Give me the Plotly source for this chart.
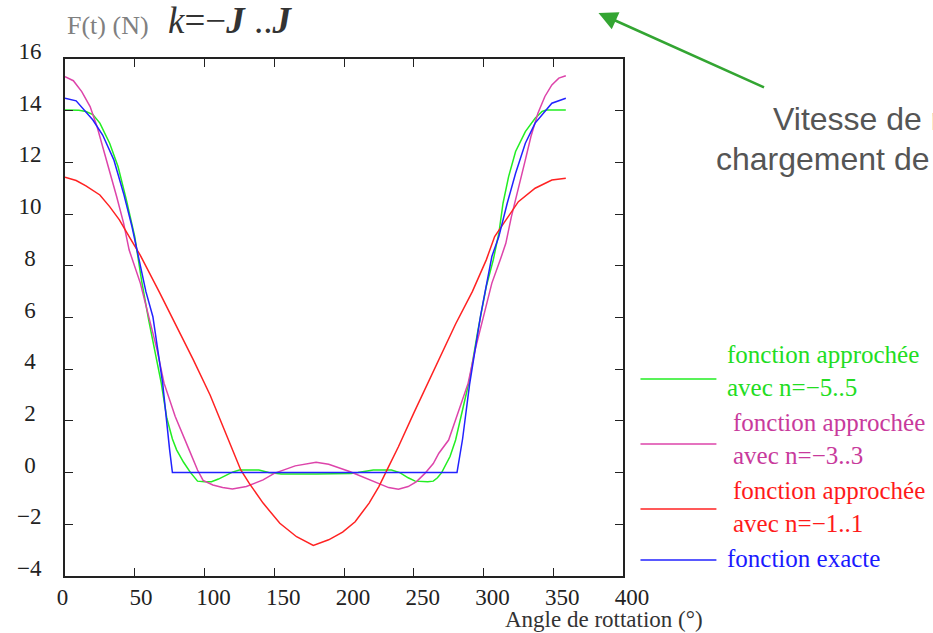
import plotly.graph_objects as go

# ---------------- data ----------------
x_exact = [0, 8, 20, 27, 35, 42, 48, 52, 58, 63, 70, 75, 77, 281, 285, 290, 298, 306, 311, 317, 323, 330, 337, 349, 359]
y_exact = [14.48, 14.38, 13.64, 13.06, 12.1, 10.8, 9.52, 8.5, 7.0, 6.03, 3.46, 0.88, 0.0, 0.0, 1.3, 3.4, 6.1, 8.36, 9.13, 10.42, 11.58, 12.74, 13.52, 14.29, 14.48]

x_n5 = [0, 10, 15, 20, 25, 32, 38, 44, 50, 55, 60, 65, 69, 73, 77, 80, 85, 90, 95, 100, 105, 110, 115, 120, 125, 132, 139, 146, 155, 180, 200, 205, 210, 215, 221, 228, 234, 240, 246, 251, 255, 260, 264, 267, 270, 273, 276, 280, 284, 290, 296, 302, 307, 311, 314, 318, 323, 330, 337, 342, 345, 359]
y_n5 = [14.03, 14.02, 13.97, 13.85, 13.52, 12.74, 11.84, 10.55, 9.13, 7.4, 5.9, 4.55, 3.46, 2.1, 1.3, 0.88, 0.4, 0.0, -0.33, -0.35, -0.35, -0.25, -0.1, 0.02, 0.1, 0.1, 0.1, 0.0, -0.05, -0.05, -0.05, -0.03, 0.0, 0.05, 0.1, 0.1, 0.1, 0.0, -0.2, -0.33, -0.35, -0.35, -0.33, -0.2, 0.0, 0.3, 0.62, 1.26, 2.2, 3.6, 5.5, 7.2, 8.23, 9.26, 10.42, 11.45, 12.42, 13.19, 13.71, 13.97, 14.03, 14.03]

x_n3 = [0, 6, 12, 18, 23, 27, 32, 37, 42, 46, 54, 60, 66, 71, 79, 89, 95, 99, 106, 113, 120, 130, 142, 150, 165, 180, 189, 204, 218, 232, 239, 246, 252, 258, 264, 268, 275, 281, 289, 294, 300, 306, 312, 316, 320, 325, 330, 334, 339, 344, 349, 354, 359]
y_n3 = [15.32, 15.16, 14.74, 14.16, 13.38, 12.61, 11.71, 10.68, 9.65, 8.61, 7.33, 6.03, 4.75, 3.46, 2.17, 0.88, 0.1, -0.3, -0.48, -0.58, -0.63, -0.54, -0.28, -0.03, 0.26, 0.4, 0.32, 0.04, -0.28, -0.58, -0.64, -0.54, -0.35, -0.03, 0.35, 0.75, 1.26, 2.17, 3.46, 4.75, 6.03, 7.33, 8.23, 8.87, 9.9, 11.06, 12.1, 13.0, 13.9, 14.55, 15.0, 15.26, 15.35]

x_n1 = [0, 8, 15, 25, 32, 39, 46, 54, 68, 80, 92, 104, 116, 126, 132, 142, 154, 166, 178, 189, 199, 208, 218, 225, 232, 239, 250, 260, 270, 280, 292, 302, 308, 316, 325, 337, 349, 359]
y_n1 = [11.43, 11.3, 11.09, 10.74, 10.29, 9.78, 9.13, 8.4, 6.94, 5.65, 4.36, 3.0, 1.4, 0.1, -0.41, -1.18, -1.96, -2.48, -2.82, -2.6, -2.3, -1.9, -1.18, -0.54, 0.23, 1.0, 2.3, 3.45, 4.6, 5.75, 7.0, 8.23, 9.13, 9.78, 10.48, 11.0, 11.32, 11.39]

x_tickvals = [0, 50, 100, 150, 200, 250, 300, 350, 400]
x_ticktext = ["0", "50", "100", "150", "200", "250", "300", "350", "400"]
y_tickvals = [-4, -2, 0, 2, 4, 6, 8, 10, 12, 14, 16]
y_ticktext = ["\u22124", "\u22122", "0", "2", "4", "6", "8", "10", "12", "14", "16"]

legend_labels = ["fonction approchée<br>avec n=\u22125..5",
                 "fonction approchée<br>avec n=\u22123..3",
                 "fonction approchée<br>avec n=\u22121..1",
                 "fonction exacte"]

# ---------------- styles ----------------
C_GREEN, C_MAG, C_RED, C_BLUE = "#22ee22", "#dd44aa", "#ff2222", "#2222ff"
T_GREEN, T_MAG, T_RED, T_BLUE = "#22dd22", "#c83a9c", "#ff1a1a", "#1a1aff"
SERIF = "Liberation Serif, Times New Roman, serif"
SANS = "Liberation Sans, Arial, sans-serif"

fig = go.Figure()
series = [(x_n5, y_n5, C_GREEN, legend_labels[0]),
          (x_n3, y_n3, C_MAG, legend_labels[1]),
          (x_n1, y_n1, C_RED, legend_labels[2]),
          (x_exact, y_exact, C_BLUE, legend_labels[3])]
for xs, ys, col, name in series:
    fig.add_trace(go.Scatter(x=xs, y=ys, mode="lines", name=name.replace("<br>", " "),
                             line=dict(color=col, width=1.5), showlegend=False))

NB = "\u00a0"
xt = ["0" + NB * 4, "50" + NB * 1] + x_ticktext[2:]
yt = [t + NB * (3 if len(t) > 1 else 4) for t in y_ticktext]

fig.update_xaxes(range=[0, 400], tickvals=x_tickvals, ticktext=xt, ticks="inside", ticklen=8,
                 tickcolor="#222", tickwidth=1.3, showline=True, linecolor="#222", linewidth=1.5,
                 mirror="ticks", showgrid=False, zeroline=False, ticklabelshift=9,
                 tickfont=dict(family=SERIF, size=23, color="#222"))
fig.update_yaxes(range=[-4, 16], tickvals=y_tickvals, ticktext=yt, ticks="inside", ticklen=8,
                 tickcolor="#222", tickwidth=1.3, showline=True, linecolor="#222", linewidth=1.5,
                 mirror="ticks", showgrid=False, zeroline=False, ticklabelshift=-8,
                 tickfont=dict(family=SERIF, size=23, color="#222"))

L, R, T, B = 65, 623.5, 59, 576
W, H = 933, 633


def px(xp):
    return (xp - L) / (R - L)


def py(yp):
    return (B - yp) / (B - T)


ann = []
# title pieces
ann.append(dict(x=px(65), y=py(25), xref="paper", yref="paper", xanchor="left", yanchor="middle",
                text="F(t) (N)", showarrow=False, font=dict(family=SERIF, size=26, color="#808080")))
ann.append(dict(x=px(166), y=py(21), xref="paper", yref="paper", xanchor="left", yanchor="middle",
                text="<i>k</i>=\u2212<b><i>J</i></b> ..<b><i>J</i></b>", showarrow=False,
                font=dict(family=SERIF, size=37, color="#333333")))
# x-axis title
ann.append(dict(x=px(503), y=py(619), xref="paper", yref="paper", xanchor="left", yanchor="middle",
                text="Angle de rottation (°)", showarrow=False,
                font=dict(family=SERIF, size=23, color="#333333")))
# side text (cut by the window edge, as in the reference)
ann.append(dict(x=px(772), y=py(119), xref="paper", yref="paper", xanchor="left", yanchor="middle",
                text="Vitesse de m", showarrow=False, font=dict(family=SANS, size=32, color="#555555")))
ann.append(dict(x=px(715), y=py(159), xref="paper", yref="paper", xanchor="left", yanchor="middle",
                text="chargement de", showarrow=False, font=dict(family=SANS, size=32, color="#555555")))
# green arrow
ann.append(dict(x=px(599), y=py(13), xref="paper", yref="paper", text="", showarrow=True,
                ax=167, ay=75, arrowhead=2, arrowsize=1.5, arrowwidth=2.5, arrowcolor="#33a532",
                standoff=0))

# manual legend
leg_line_y = [379, 444, 509, 560]
leg_text_y = [371, 438.5, 506.5, 558]
leg_text_x = [726, 732, 732, 726]
leg_line_cols = [C_GREEN, C_MAG, C_RED, C_BLUE]
leg_text_cols = [T_GREEN, T_MAG, T_RED, T_BLUE]
shapes = []
for i in range(4):
    shapes.append(dict(type="line", xref="paper", yref="paper", x0=px(641), x1=px(717),
                       y0=py(leg_line_y[i]), y1=py(leg_line_y[i]),
                       line=dict(color=leg_line_cols[i], width=1.5)))
    ann.append(dict(x=px(leg_text_x[i]), y=py(leg_text_y[i]), xref="paper", yref="paper",
                    xanchor="left", yanchor="middle", align="left", text=legend_labels[i],
                    showarrow=False, font=dict(family=SERIF, size=25, color=leg_text_cols[i])))

fig.update_layout(width=W, height=H, margin=dict(l=L, r=W - R, t=T, b=H - B),
                  plot_bgcolor="white", paper_bgcolor="white", annotations=ann, shapes=shapes,
                  showlegend=False)

fig.write_html("out.html", config={"displayModeBar": False},
               post_script="document.body.style.margin='0';document.body.style.overflow='hidden';")
